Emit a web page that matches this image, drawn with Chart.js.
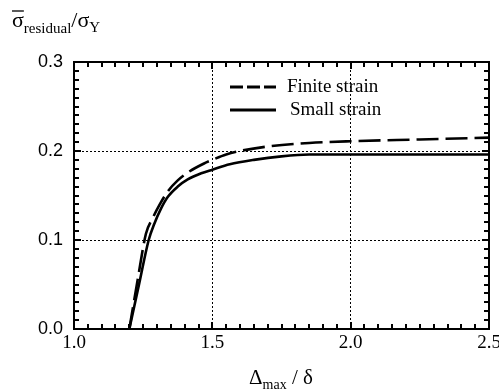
<!DOCTYPE html>
<html>
<head>
<meta charset="utf-8">
<script src="https://cdn.jsdelivr.net/npm/chart.js@4.4.0/dist/chart.umd.min.js"></script>
<style>
  html, body { margin: 0; padding: 0; background: #fff; }
</style>
</head>
<body>
<canvas id="chart" width="499" height="391"></canvas>
<script>
// data
const finiteX = [1.2, 1.23, 1.26, 1.285, 1.31, 1.34, 1.375, 1.417, 1.47, 1.5, 1.55, 1.6, 1.7, 1.85, 2.0, 2.25, 2.5];
const finiteY = [0.0, 0.055, 0.107, 0.125, 0.14, 0.155, 0.167, 0.177, 0.186, 0.19, 0.196, 0.2, 0.205, 0.209, 0.211, 0.213, 0.215];
const smallX = [1.2, 1.235, 1.27, 1.29, 1.314, 1.338, 1.375, 1.411, 1.46, 1.5, 1.563, 1.65, 1.75, 1.85, 2.0, 2.5];
const smallY = [0.0, 0.05, 0.1, 0.118, 0.135, 0.148, 0.16, 0.168, 0.175, 0.179, 0.185, 0.19, 0.194, 0.196, 0.196, 0.196];
const seriesNames = ["Finite strain", "Small strain"];
const xTickValues = [1.0, 1.5, 2.0, 2.5];
const yTickValues = [0.0, 0.1, 0.2, 0.3];

const serif = "'Liberation Serif', 'Times New Roman', serif";
const sans = "'Liberation Sans', Arial, sans-serif";

function toPoints(xs, ys) {
  return xs.map((x, i) => ({ x: x, y: ys[i] }));
}

function isEdge(value, list) {
  return Math.abs(value - list[0]) < 1e-6 || Math.abs(value - list[list.length - 1]) < 1e-6;
}

// frame, minor ticks, legend and axis titles
const decorPlugin = {
  id: "decor",
  afterDraw(chart) {
    const ctx = chart.ctx;
    const a = chart.chartArea;
    const xs = chart.scales.x;
    const ys = chart.scales.y;
    ctx.save();
    ctx.setLineDash([]);
    ctx.strokeStyle = "#000";
    ctx.fillStyle = "#000";

    // small inward ticks on all four sides
    for (let i = 0; i <= 30; i++) {
      const px = Math.round(xs.getPixelForValue(xTickValues[0] + i * 0.05));
      const len = i % 10 === 0 ? 7 : 5;
      ctx.fillRect(px - 1, a.bottom - len, 2, len);
      ctx.fillRect(px - 1, a.top, 2, len);
    }
    for (let i = 0; i <= 30; i++) {
      const py = Math.round(ys.getPixelForValue(i * 0.01));
      const len = i % 10 === 0 ? 7 : 5;
      ctx.fillRect(a.left, py - 1, len, 2);
      ctx.fillRect(a.right - len, py - 1, len, 2);
    }

    // frame
    ctx.lineWidth = 2;
    ctx.strokeRect(a.left, a.top, a.right - a.left, a.bottom - a.top);

    // legend inside the plot
    const sets = chart.data.datasets;
    const lx = a.left + 156;
    const rows = [a.top + 25, a.top + 48];
    sets.forEach((ds, i) => {
      ctx.lineWidth = 3;
      ctx.setLineDash(i === 0 ? [13, 4] : []);
      ctx.beginPath();
      ctx.moveTo(lx, rows[i]);
      ctx.lineTo(lx + 46, rows[i]);
      ctx.stroke();
      ctx.setLineDash([]);
      ctx.font = "19px " + serif;
      ctx.textBaseline = "middle";
      ctx.textAlign = "left";
      ctx.fillText(ds.label, lx + 57 + i * 3, rows[i]);
    });

    // y title: sigma-bar residual / sigma Y
    ctx.textBaseline = "alphabetic";
    ctx.textAlign = "left";
    let x = 12;
    const base = 27;
    ctx.font = "22px " + serif;
    ctx.fillText("σ", x, base);
    let w = ctx.measureText("σ").width;
    ctx.lineWidth = 1.3;
    ctx.beginPath();
    ctx.moveTo(x, base - 16); ctx.lineTo(x + w, base - 16);
    ctx.stroke();
    x += w;
    ctx.font = "15px " + serif;
    ctx.fillText("residual", x, base + 6);
    x += ctx.measureText("residual").width;
    ctx.font = "22px " + serif;
    ctx.fillText("/σ", x, base);
    x += ctx.measureText("/σ").width;
    ctx.font = "15px " + serif;
    ctx.fillText("Y", x, base + 5);

    // x title: Delta max / delta
    const parts = [["Δ", "21px", 0], ["max", "14px", 5], [" / δ", "21px", 0]];
    let total = 0;
    parts.forEach(p => { ctx.font = p[1] + " " + serif; total += ctx.measureText(p[0]).width; });
    x = 281 - total / 2;
    parts.forEach(p => {
      ctx.font = p[1] + " " + serif;
      ctx.fillText(p[0], x, 384 + p[2]);
      x += ctx.measureText(p[0]).width;
    });
    ctx.restore();
  }
};

new Chart(document.getElementById("chart"), {
  type: "line",
  data: {
    datasets: [
      {
        label: seriesNames[0],
        data: toPoints(finiteX, finiteY),
        borderColor: "#000",
        borderWidth: 2.6,
        borderDash: [22, 7],
        pointRadius: 0,
        cubicInterpolationMode: "monotone",
        fill: false
      },
      {
        label: seriesNames[1],
        data: toPoints(smallX, smallY),
        borderColor: "#000",
        borderWidth: 2.6,
        pointRadius: 0,
        cubicInterpolationMode: "monotone",
        fill: false
      }
    ]
  },
  options: {
    responsive: false,
    animation: false,
    layout: { padding: { left: 0, top: 62, right: 10, bottom: 0 } },
    plugins: {
      legend: { display: false },
      tooltip: { enabled: false }
    },
    scales: {
      x: {
        type: "linear",
        min: xTickValues[0],
        max: xTickValues[xTickValues.length - 1],
        afterBuildTicks: (scale) => { scale.ticks = xTickValues.map(v => ({ value: v })); },
        afterFit: (scale) => { scale.height = 62; scale.paddingLeft = 0; scale.paddingRight = 0; },
        ticks: {
          padding: 3,
          color: "#000",
          font: { family: serif, size: 19 },
          callback: (v) => Number(v).toFixed(1)
        },
        grid: {
          drawTicks: false,
          lineWidth: 1,
          color: (c) => (c.tick && !isEdge(c.tick.value, xTickValues)) ? "#000" : "rgba(0,0,0,0)"
        },
        border: { display: false, dash: [2, 2] }
      },
      y: {
        type: "linear",
        min: yTickValues[0],
        max: yTickValues[yTickValues.length - 1],
        afterBuildTicks: (scale) => { scale.ticks = yTickValues.map(v => ({ value: v })); },
        afterFit: (scale) => { scale.width = 74; },
        ticks: {
          padding: 11,
          color: "#000",
          font: { family: sans, size: 18 },
          callback: (v) => Number(v).toFixed(1)
        },
        grid: {
          drawTicks: false,
          lineWidth: 1,
          color: (c) => (c.tick && !isEdge(c.tick.value, yTickValues)) ? "#000" : "rgba(0,0,0,0)"
        },
        border: { display: false, dash: [2, 2] }
      }
    }
  },
  plugins: [decorPlugin]
});
</script>
</body>
</html>
